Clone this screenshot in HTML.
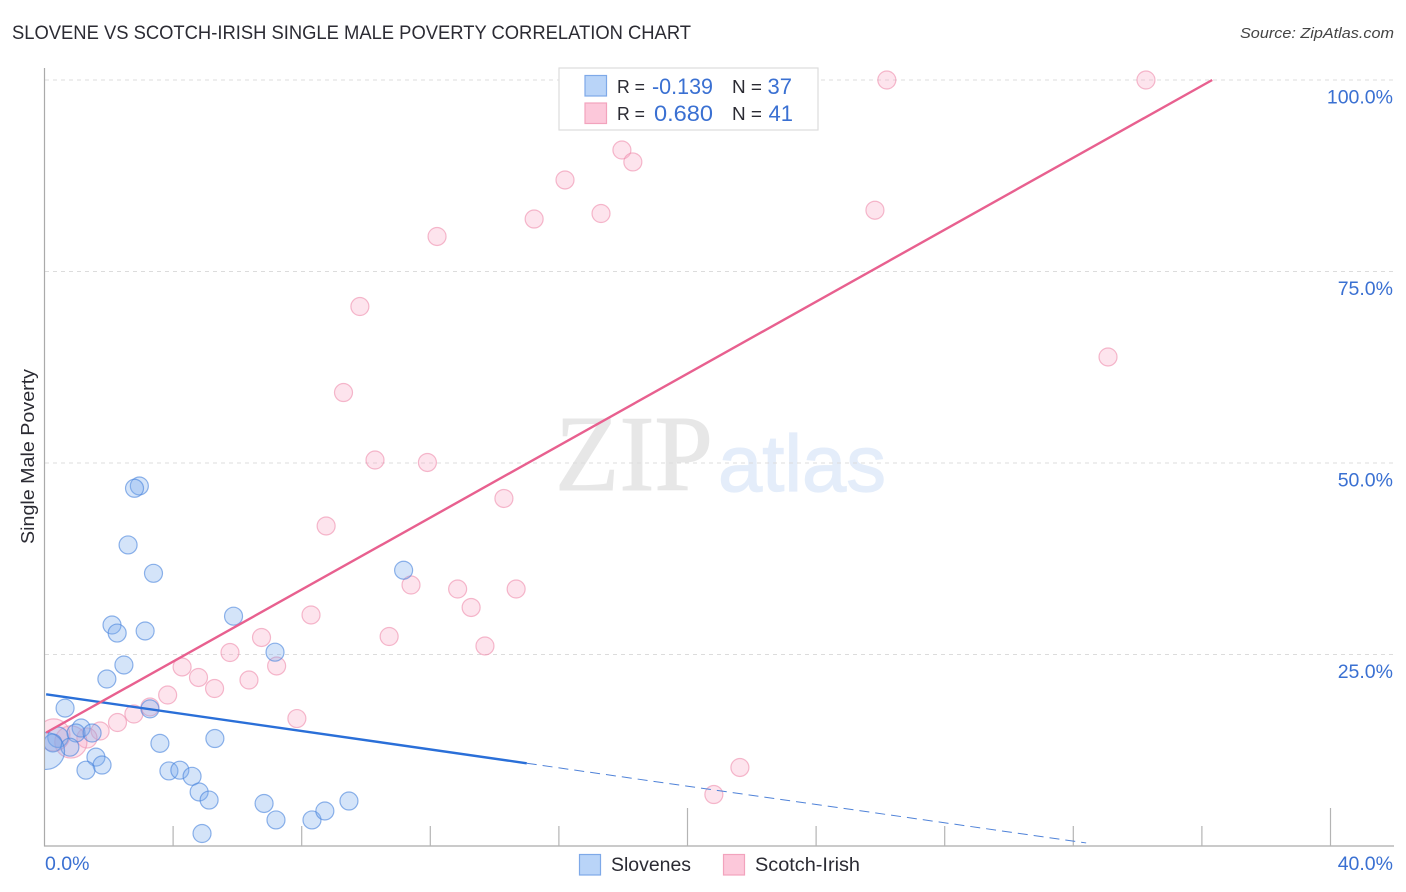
<!DOCTYPE html>
<html lang="en">
<head>
<meta charset="utf-8">
<title>Slovene vs Scotch-Irish Single Male Poverty Correlation Chart</title>
<style>
html,body{margin:0;padding:0;background:#fff;}
svg{display:block;font-family:"Liberation Sans",sans-serif;}
</style>
</head>
<body>
<svg id="chart" xmlns="http://www.w3.org/2000/svg" width="1406" height="892" viewBox="0 0 1406 892">
  <defs>
    <clipPath id="plot-clip"><rect x="45" y="60" width="1361" height="786"></rect></clipPath>
  </defs>
  <rect x="0" y="0" width="1406" height="892" fill="#ffffff"></rect>
  <text x="12" y="39" font-size="19" fill="#2b2b33" textLength="679" lengthAdjust="spacingAndGlyphs">SLOVENE VS SCOTCH-IRISH SINGLE MALE POVERTY CORRELATION CHART</text>
  <text x="1394" y="38" font-size="15" font-style="italic" fill="#444444" text-anchor="end" textLength="154" lengthAdjust="spacingAndGlyphs">Source: ZipAtlas.com</text>
  <g>
    <text x="555" y="490" font-family="'Liberation Serif',serif" font-size="108" fill="#e7e7e7" stroke="#e7e7e7" stroke-width="1" textLength="158" lengthAdjust="spacingAndGlyphs">ZIP</text>
    <text x="718" y="491" font-size="80" fill="#e4edfa" stroke="#e4edfa" stroke-width="1.2" textLength="168" lengthAdjust="spacingAndGlyphs">atlas</text>
  </g>
  <g id="grid"></g>
  <g id="axes"></g>
  <g id="points-pink" clip-path="url(#plot-clip)"></g>
  <g id="points-blue" clip-path="url(#plot-clip)"></g>
  <g id="trends"></g>
  <g id="labels"></g>
  <text transform="translate(34,456.5) rotate(-90)" font-size="18" fill="#2b2b33" text-anchor="middle" textLength="175" lengthAdjust="spacingAndGlyphs">Single Male Poverty</text>

  <g>
    <rect x="559" y="68" width="259" height="62" fill="#ffffff" stroke="#dddddd" stroke-width="1.2"></rect>
    <rect x="585" y="75.500" width="21.500" height="20.500" fill="#b9d4f8" stroke="#7ea9e8" stroke-width="1.200"></rect>
    <rect x="585" y="103" width="21.500" height="20.500" fill="#fcc8da" stroke="#f2a3bd" stroke-width="1.200"></rect>
    <text x="617" y="93" font-size="18.500" fill="#2b2b33" textLength="28" lengthAdjust="spacingAndGlyphs">R =</text>
    <text x="713" y="94" font-size="22" fill="#3a70d2" text-anchor="end" textLength="61" lengthAdjust="spacingAndGlyphs">-0.139</text>
    <text x="732" y="93" font-size="18.500" fill="#2b2b33" textLength="30" lengthAdjust="spacingAndGlyphs">N =</text>
    <text x="792" y="94" font-size="22" fill="#3a70d2" text-anchor="end">37</text>
    <text x="617" y="120" font-size="18.500" fill="#2b2b33" textLength="28" lengthAdjust="spacingAndGlyphs">R =</text>
    <text x="713" y="121" font-size="22" fill="#3a70d2" text-anchor="end" textLength="59" lengthAdjust="spacingAndGlyphs">0.680</text>
    <text x="732" y="120" font-size="18.500" fill="#2b2b33" textLength="30" lengthAdjust="spacingAndGlyphs">N =</text>
    <text x="793" y="121" font-size="22" fill="#3a70d2" text-anchor="end">41</text>
  </g>

  <g>
    <rect x="579.500" y="854.500" width="21" height="20.500" fill="#b9d4f8" stroke="#7ea9e8" stroke-width="1.200"></rect>
    <text x="611" y="871" font-size="19" fill="#2b2b33" textLength="80" lengthAdjust="spacingAndGlyphs">Slovenes</text>
    <rect x="723.500" y="854.500" width="21" height="20.500" fill="#fcc8da" stroke="#f2a3bd" stroke-width="1.200"></rect>
    <text x="755" y="871" font-size="19" fill="#2b2b33" textLength="105" lengthAdjust="spacingAndGlyphs">Scotch-Irish</text>
  </g>
</svg>
<script>
// Chart data (values in percent)
const xTickValues = [4, 8, 12, 16, 20, 24, 28, 32, 36, 40];
const xMajorTicks = [20, 40];
const xEdgeLabels = [0, 40];
const yGridValues = [25, 50, 75, 100];

const sloveneX = [2.95,2.80,2.60,3.39,11.17,5.88,2.10,2.26,3.13,2.47,1.94,0.64,3.28,7.17,3.59,5.30,1.14,0.98,1.48,0.42,0.26,0.79,1.60,1.79,1.29,3.87,4.21,4.59,4.81,5.12,6.83,7.20,8.32,8.72,9.47,4.90,0.05];
const sloveneY = [47.0,46.7,39.3,35.6,36.0,30.0,28.85,27.8,28.07,23.63,21.8,18.0,17.9,25.3,13.4,14.03,15.4,14.75,14.75,14.2,13.45,12.9,11.6,10.57,9.9,9.8,9.9,9.1,7.05,6.0,5.55,3.4,3.4,4.57,5.87,1.63,12.4];
const sloveneWeight = [1,1,1,1,1,1,1,1,1,1,1,1,1,1,1,1,1,1,1,1.3,1,1,1,1,1,1,1,1,1,1,1,1,1,1,1,1,4.2];

const scotchX = [26.2,34.26,17.96,18.3,16.19,17.31,15.23,25.83,12.21,9.81,33.08,9.3,10.28,11.91,14.29,8.76,11.4,12.85,14.67,13.27,8.29,10.72,6.75,13.7,5.77,7.22,4.28,4.79,6.36,5.29,3.83,7.85,3.28,2.78,2.27,1.73,21.63,20.82,1.32,0.82,0.29];
const scotchY = [100,100,90.86,89.3,86.95,82.57,81.85,83.0,79.57,70.43,63.84,59.2,50.39,50.07,45.37,41.78,34.07,33.55,33.55,31.14,30.16,27.35,27.22,26.11,25.26,23.5,23.37,22.0,21.67,20.56,19.71,16.64,18.15,17.23,16.12,15.01,10.25,6.72,14.1,13.58,14.49];
const scotchWeight = [1,1,1,1,1,1,1,1,1,1,1,1,1,1,1,1,1,1,1,1,1,1,1,1,1,1,1,1,1,1,1,1,1,1,1,1,1,1,1.25,3.2,3.2];

const sloveneTrendX = [0.05, 15.0];
const sloveneTrendY = [19.8, 10.8];
const sloveneDashX = [15.0, 32.4];
const sloveneDashY = [10.8, 0.4];
const scotchTrendX = [0.05, 36.32];
const scotchTrendY = [14.8, 100];

const NS = 'http://www.w3.org/2000/svg';
function xPos(v) { return 44.5 + v * 32.15; }
function yPos(v) { return 846 - v * 7.66; }
function make(parent, tag, attrs, text) {
  const el = document.createElementNS(NS, tag);
  for (const k in attrs) el.setAttribute(k, attrs[k]);
  if (text !== undefined) el.textContent = text;
  parent.appendChild(el);
  return el;
}

const grid = document.getElementById('grid');
const axes = document.getElementById('axes');
const labels = document.getElementById('labels');
const trends = document.getElementById('trends');
const pinkGroup = document.getElementById('points-pink');
const blueGroup = document.getElementById('points-blue');

yGridValues.forEach(function (v) {
  const line = make(grid, 'line', {x1: 45, x2: 1394, y1: yPos(v), y2: yPos(v), stroke: '#dcdcdc', 'stroke-width': 1, 'stroke-dasharray': '4 4'});
  
  
  const label = make(labels, 'text', {x: 1393, y: yPos(v) + 23.5, 'font-size': 19.5, fill: '#3a70d2', 'text-anchor': 'end'}, v.toFixed(1) + '%');
  
  
});

const yAxis = make(axes, 'line', {x1: 44.5, x2: 44.5, y1: 68, y2: 846.5, stroke: '#aaaaaa', 'stroke-width': 1.2});


const xAxis = make(axes, 'line', {x1: 44, x2: 1394, y1: 846, y2: 846, stroke: '#aaaaaa', 'stroke-width': 1.2});



xTickValues.forEach(function (v) {
  const top = xMajorTicks.indexOf(v) >= 0 ? 808 : 826;
  const tick = make(axes, 'line', {x1: xPos(v), x2: xPos(v), y1: top, y2: 846, stroke: '#b4b4b4', 'stroke-width': 1.2});
  
  
});

xEdgeLabels.forEach(function (v, i) {
  const label = make(labels, 'text', {
    x: i === 0 ? 45 : 1393, y: 870, 'font-size': 19.5, fill: '#3a70d2',
    'text-anchor': i === 0 ? 'start' : 'end'
  }, v.toFixed(1) + '%');
  
  
});

function radius(w) { return 9 * Math.sqrt(w); }

scotchX.forEach(function (v, i) {
  const c = make(pinkGroup, 'circle', {
    cx: xPos(v), cy: yPos(scotchY[i]), r: radius(scotchWeight[i]),
    fill: 'rgba(248,170,198,0.32)', stroke: 'rgba(238,140,172,0.6)', 'stroke-width': 1.2
  });
  
  
});

sloveneX.forEach(function (v, i) {
  const c = make(blueGroup, 'circle', {
    cx: xPos(v), cy: yPos(sloveneY[i]), r: radius(sloveneWeight[i]),
    fill: 'rgba(120,170,235,0.32)', stroke: 'rgba(70,130,220,0.6)', 'stroke-width': 1.2
  });
  
  
});

const blueLine = make(trends, 'line', {
  x1: xPos(sloveneTrendX[0]), y1: yPos(sloveneTrendY[0]), x2: xPos(sloveneTrendX[1]), y2: yPos(sloveneTrendY[1]),
  stroke: '#2a6fd8', 'stroke-width': 2.4
});



const blueDash = make(trends, 'line', {
  x1: xPos(sloveneDashX[0]), y1: yPos(sloveneDashY[0]), x2: xPos(sloveneDashX[1]), y2: yPos(sloveneDashY[1]),
  stroke: '#4f82d8', 'stroke-width': 1, 'stroke-dasharray': '10 6'
});



const pinkLine = make(trends, 'line', {
  x1: xPos(scotchTrendX[0]), y1: yPos(scotchTrendY[0]), x2: xPos(scotchTrendX[1]), y2: yPos(scotchTrendY[1]),
  stroke: '#e8608f', 'stroke-width': 2.4
});


</script>
</body>
</html>
